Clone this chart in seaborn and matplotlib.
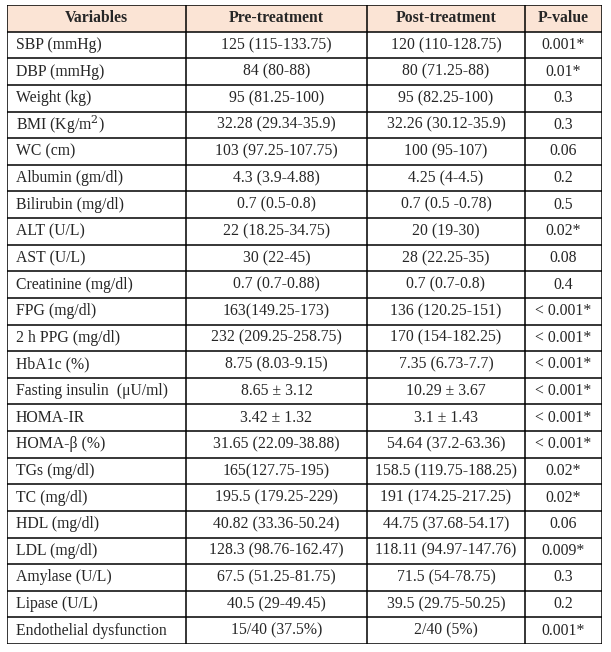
import numpy as np
import matplotlib
matplotlib.use("Agg")
import matplotlib.pyplot as plt
import seaborn as sns

# table contents
header = ["Variables", "Pre-treatment", "Post-treatment", "P-value"]
variables = ["SBP (mmHg)", "DBP (mmHg)", "Weight (kg)", "BMI (Kg/m$^2$)", "WC (cm)",
             "Albumin (gm/dl)", "Bilirubin (mg/dl)", "ALT (U/L)", "AST (U/L)",
             "Creatinine (mg/dl)", "FPG (mg/dl)", "2 h PPG (mg/dl)", "HbA1c (%)",
             "Fasting insulin  (\u03bcU/ml)", "HOMA-IR", "HOMA-\u03b2 (%)", "TGs (mg/dl)",
             "TC (mg/dl)", "HDL (mg/dl)", "LDL (mg/dl)", "Amylase (U/L)", "Lipase (U/L)",
             "Endothelial dysfunction"]
pre = ["125 (115-133.75)", "84 (80-88)", "95 (81.25-100)", "32.28 (29.34-35.9)",
       "103 (97.25-107.75)", "4.3 (3.9-4.88)", "0.7 (0.5-0.8)", "22 (18.25-34.75)",
       "30 (22-45)", "0.7 (0.7-0.88)", "163(149.25-173)", "232 (209.25-258.75)",
       "8.75 (8.03-9.15)", "8.65 \u00b1 3.12", "3.42 \u00b1 1.32", "31.65 (22.09-38.88)",
       "165(127.75-195)", "195.5 (179.25-229)", "40.82 (33.36-50.24)",
       "128.3 (98.76-162.47)", "67.5 (51.25-81.75)", "40.5 (29-49.45)", "15/40 (37.5%)"]
post = ["120 (110-128.75)", "80 (71.25-88)", "95 (82.25-100)", "32.26 (30.12-35.9)",
        "100 (95-107)", "4.25 (4-4.5)", "0.7 (0.5 -0.78)", "20 (19-30)", "28 (22.25-35)",
        "0.7 (0.7-0.8)", "136 (120.25-151)", "170 (154-182.25)", "7.35 (6.73-7.7)",
        "10.29 \u00b1 3.67", "3.1 \u00b1 1.43", "54.64 (37.2-63.36)", "158.5 (119.75-188.25)",
        "191 (174.25-217.25)", "44.75 (37.68-54.17)", "118.11 (94.97-147.76)",
        "71.5 (54-78.75)", "39.5 (29.75-50.25)", "2/40 (5%)"]
pvalue = ["0.001*", "0.01*", "0.3", "0.3", "0.06", "0.2", "0.5", "0.02*", "0.08", "0.4",
          "< 0.001*", "< 0.001*", "< 0.001*", "< 0.001*", "< 0.001*", "< 0.001*",
          "0.02*", "0.02*", "0.06", "0.009*", "0.3", "0.2", "0.001*"]

sns.set_theme(style="white")
plt.rcParams['font.family'] = ['Liberation Serif', 'DejaVu Serif']
plt.rcParams['mathtext.fontset'] = 'dejavuserif'

col_w = [179, 181, 158, 77]
edges = np.concatenate([[0], np.cumsum(col_w)])
n_rows = len(variables) + 1

fig = plt.figure(figsize=(6.11, 6.52), dpi=100)
ax = fig.add_axes([7 / 611, (652 - 644) / 652, edges[-1] / 611, 639 / 652])
ax.set_xlim(0, edges[-1])
ax.set_ylim(n_rows, 0)
ax.axis("off")

# header fill
ax.fill_between([0, edges[-1]], 0, 1, color="#fbe4d5", lw=0)

# grid lines
ax.hlines(np.arange(n_rows + 1), 0, edges[-1], color="black", lw=1.1)
ax.vlines(edges, 0, n_rows, color="black", lw=1.1)

fs = 11.3
for c, h in enumerate(header):
    ax.text((edges[c] + edges[c + 1]) / 2, 0.5, h, ha="center", va="center",
            fontsize=fs, fontweight="bold")

cols = [variables, pre, post, pvalue]
for c, vals in enumerate(cols):
    for r, v in enumerate(vals):
        y = r + 1.5
        if c == 0:
            ax.text(edges[0] + 9, y, v, ha="left", va="center", fontsize=fs)
        else:
            ax.text((edges[c] + edges[c + 1]) / 2, y, v, ha="center", va="center",
                    fontsize=fs)

fig.savefig("out.png", dpi=100, facecolor="white")
